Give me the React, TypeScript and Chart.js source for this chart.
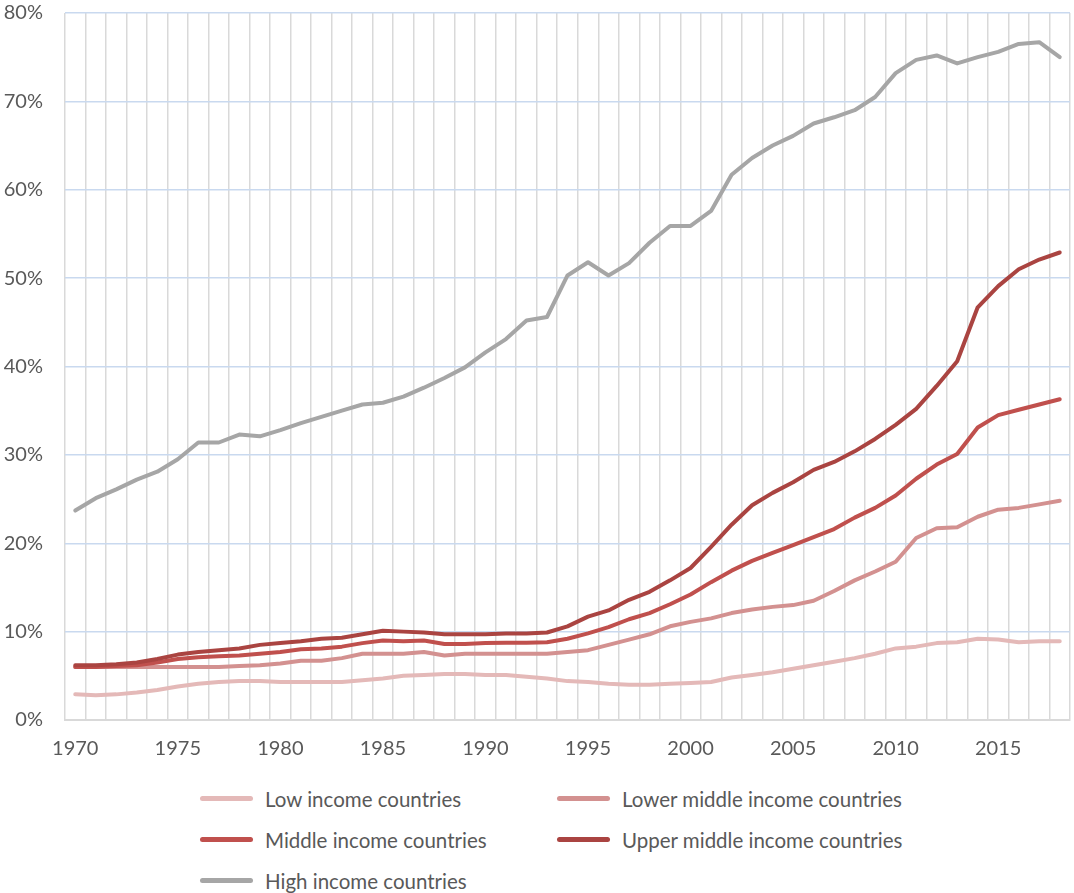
import React, { useEffect, useRef } from "react";
import { Chart, registerables } from "chart.js";

Chart.register(...registerables);

const years: number[] = [];
for (let y = 1970; y <= 2018; y++) years.push(y);
const categories = years.map(String);

const lowIncome = [
  2.9, 2.8, 2.9, 3.1, 3.4, 3.8, 4.1, 4.3, 4.4, 4.4,
  4.3, 4.3, 4.3, 4.3, 4.5, 4.7, 5.0, 5.1, 5.2, 5.2,
  5.1, 5.1, 4.9, 4.7, 4.4, 4.3, 4.1, 4.0, 4.0, 4.1,
  4.2, 4.3, 4.8, 5.1, 5.4, 5.8, 6.2, 6.6, 7.0, 7.5,
  8.1, 8.3, 8.7, 8.8, 9.2, 9.1, 8.8, 8.9, 8.9,
];
const lowerMiddleIncome = [
  6.0, 6.0, 6.0, 6.0, 6.0, 6.0, 6.0, 6.0, 6.1, 6.2,
  6.4, 6.7, 6.7, 7.0, 7.5, 7.5, 7.5, 7.7, 7.3, 7.5,
  7.5, 7.5, 7.5, 7.5, 7.7, 7.9, 8.5, 9.1, 9.7, 10.6,
  11.1, 11.5, 12.1, 12.5, 12.8, 13.0, 13.5, 14.6, 15.8, 16.8,
  17.9, 20.6, 21.7, 21.8, 23.0, 23.8, 24.0, 24.4, 24.8,
];
const middleIncome = [
  6.0, 6.0, 6.1, 6.2, 6.5, 6.9, 7.1, 7.2, 7.3, 7.5,
  7.7, 8.0, 8.1, 8.3, 8.7, 9.0, 8.9, 9.0, 8.6, 8.6,
  8.7, 8.75, 8.75, 8.8, 9.2, 9.8, 10.5, 11.4, 12.1, 13.1,
  14.2, 15.6, 16.9, 18.0, 18.9, 19.8, 20.7, 21.6, 22.9, 24.0,
  25.4, 27.3, 28.9, 30.1, 33.1, 34.5, 35.1, 35.7, 36.3,
];
const upperMiddleIncome = [
  6.2, 6.2, 6.3, 6.5, 6.9, 7.4, 7.7, 7.9, 8.1, 8.5,
  8.7, 8.9, 9.2, 9.3, 9.7, 10.1, 10.0, 9.9, 9.7, 9.7,
  9.7, 9.8, 9.8, 9.9, 10.6, 11.7, 12.4, 13.6, 14.5, 15.8,
  17.2, 19.6, 22.1, 24.3, 25.7, 26.9, 28.3, 29.2, 30.4, 31.8,
  33.4, 35.2, 37.8, 40.6, 46.7, 49.1, 51.0, 52.1, 52.9,
];
const highIncome = [
  23.7, 25.1, 26.1, 27.2, 28.1, 29.5, 31.4, 31.4, 32.3, 32.1,
  32.8, 33.6, 34.3, 35.0, 35.7, 35.9, 36.6, 37.6, 38.7, 39.9,
  41.6, 43.1, 45.2, 45.6, 50.3, 51.8, 50.3, 51.7, 54.0, 55.9,
  55.9, 57.6, 61.7, 63.6, 65.0, 66.1, 67.5, 68.2, 69.0, 70.5,
  73.2, 74.7, 75.2, 74.3, 75.0, 75.6, 76.5, 76.7, 75.0,
];

const seriesNames = [
  "Low income countries",
  "Lower middle income countries",
  "Middle income countries",
  "Upper middle income countries",
  "High income countries",
];
const seriesColors = ["#e4b9b8", "#d39190", "#c0504d", "#aa4441", "#a6a6a6"];
const seriesData = [lowIncome, lowerMiddleIncome, middleIncome, upperMiddleIncome, highIncome];
const seriesOrder = [4, 3, 2, 1, 5];

const yTicks = [0, 10, 20, 30, 40, 50, 60, 70, 80];

const FONT = "Lato, 'Open Sans', sans-serif";

export default function App() {
  const ref = useRef<HTMLCanvasElement | null>(null);

  useEffect(() => {
    document.body.style.margin = "0";
    const canvas = ref.current;
    if (!canvas) return;
    const chart = new Chart(canvas, {
      type: "line",
      data: {
        labels: categories,
        datasets: seriesNames.map((name, i) => ({
          label: name,
          data: seriesData[i],
          borderColor: seriesColors[i],
          backgroundColor: seriesColors[i],
          borderWidth: 4,
          pointRadius: 0,
          tension: 0,
          fill: false,
          order: seriesOrder[i],
          borderCapStyle: "round" as const,
          borderJoinStyle: "round" as const,
        })),
      },
      options: {
        animation: false,
        responsive: true,
        maintainAspectRatio: false,
        layout: { padding: { top: 13, right: 4, left: 0, bottom: 0 } },
        plugins: {
          legend: { display: false },
          tooltip: { enabled: false },
        },
        scales: {
          x: {
            type: "category",
            offset: true,
            grid: {
              offset: true,
              color: "#d9d9d9",
              lineWidth: 1.5,
              drawTicks: false,
            },
            border: { display: true, color: "#d9d9d9", width: 2 },
            ticks: {
              autoSkip: false,
              maxRotation: 0,
              padding: 17,
              color: "#595959",
              font: { family: FONT, size: 20 },
              callback: (_v: any, idx: number) =>
                years[idx] % 5 === 0 ? String(years[idx]) : "",
            },
            afterFit: (scale: any) => {
              scale.height = 50;
              scale.paddingLeft = 0;
              scale.paddingRight = 0;
            },
          },
          y: {
            min: 0,
            max: 80,
            afterBuildTicks: (scale: any) => {
              scale.ticks = yTicks.map((v) => ({ value: v }));
            },
            grid: { color: "#c9d9ef", lineWidth: 1.5, drawTicks: false },
            border: { display: false },
            ticks: {
              padding: 22,
              color: "#595959",
              font: { family: FONT, size: 20 },
              callback: (v: any) => `${v}%`,
            },
            afterFit: (scale: any) => {
              scale.width = 65;
              scale.paddingTop = 12;
              scale.paddingBottom = 12;
            },
          },
        },
      },
    });
    return () => chart.destroy();
  }, []);

  const legendItem = (i: number) => (
    <div
      key={i}
      style={{ display: "flex", alignItems: "center", height: 41 }}
    >
      <span
        style={{
          display: "inline-block",
          width: 53,
          height: 5,
          borderRadius: 3,
          background: seriesColors[i],
          marginRight: 12,
        }}
      />
      <span style={{ fontFamily: FONT, fontSize: 20.5, color: "#595959" }}>
        {seriesNames[i]}
      </span>
    </div>
  );

  return (
    <div style={{ position: "relative", width: 1074, height: 893 }}>
      <div style={{ position: "absolute", left: 0, top: 0, width: 1074, height: 770 }}>
        <canvas ref={ref} />
      </div>
      <div
        style={{
          position: "absolute",
          top: 778,
          left: 200,
          display: "grid",
          gridTemplateColumns: "357px 360px",
        }}
      >
        {legendItem(0)}
        {legendItem(1)}
        {legendItem(2)}
        {legendItem(3)}
        {legendItem(4)}
      </div>
    </div>
  );
}
